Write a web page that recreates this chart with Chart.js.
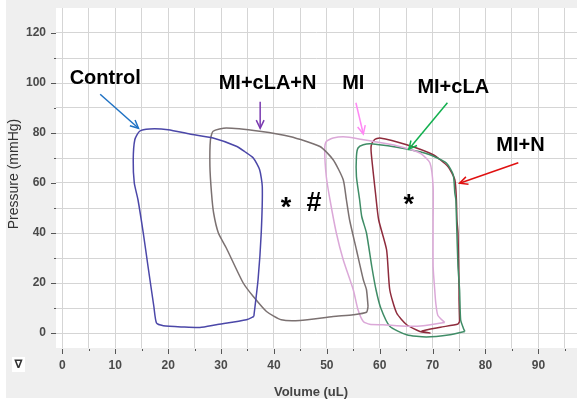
<!DOCTYPE html>
<html>
<head>
<meta charset="utf-8">
<script src="https://cdn.jsdelivr.net/npm/chart.js@4"></script>
<style>
html,body{margin:0;padding:0;background:#fff;}
#wrap{width:577px;height:399px;position:relative;}
</style>
</head>
<body>
<div id="wrap"><canvas id="c" width="577" height="399"></canvas></div>
<script>
// ---- data (Volume uL, Pressure mmHg) ----
const xTicks = [0,5,10,15,20,25,30,35,40,45,50,55,60,65,70,75,80,85,90,95];
const yTicks = [0,10,20,30,40,50,60,70,80,90,100,110,120];

const controlX = [36.2,37.0,37.6,37.8,37.3,36.1,34.5,32.9,28.5,24.1,20.0,16.5,14.6,13.7,13.4,13.6,14.3,15.3,16.2,17.3,17.8,19.1,22.8,26.0,29.1,34.8,36.2];
const controlY = [6.6,21.3,40,58.6,65.3,70,72.5,74.7,78,79.6,81.3,81.6,80.7,77.3,69.3,60,53.3,40,26.6,10.6,4,2.9,2.4,2.2,3.3,5.3,6.6];

const cLANX = [57.8,57.5,56.9,55.6,54.3,53.7,53.1,51.2,48.7,43.0,37.3,31.0,28.5,28.0,27.9,28.2,28.6,29.5,31.0,34.2,36.1,38.6,41.4,44.9,51.2,55.0,57.5,57.8];
const cLANY = [10.6,17.3,21.3,33.3,45.3,53.3,61.3,69.3,74.6,78.6,80.7,82,80.7,77.3,66.6,56,48,40,34,20,14.6,8.6,5.3,5,6.6,7.3,8.3,10.6];

const miX = [72.3,71.0,70.6,70.4,70.1,70.1,70.1,69.5,67.6,63.2,58.8,53.7,51.2,49.9,49.6,49.9,50.6,51.8,53.1,55.0,55.9,56.9,58.1,60.6,65.1,68.2,72.3];
const miY = [4.2,7,12,17.3,26.6,45.3,58.6,68,72,74.9,76.6,78.4,78,76.6,73.3,62.6,53.3,40,29.3,17.3,9.3,4.6,3.5,3.3,2.7,2.9,4.2];

const miCLAX = [76.1,75.8,75.3,75.1,74.8,74.5,74.4,74.2,73.9,72.6,69.5,65.1,58.4,56.9,55.9,55.6,55.6,56.2,56.6,57.5,58.5,59.3,60.2,61.9,65.1,68.8,73.3,76.1];
const miCLAY = [0.6,2,5.3,17.3,26.6,46.6,53.3,56,63.3,68,71.3,73.6,75.7,75.3,74,70.6,62.6,53.3,46.6,40,26.6,17.3,10,2.7,-0.7,-1.6,-0.7,0.6];

const miNX = [75.1,75.0,75.0,74.8,74.6,74.5,74.2,72.9,70.1,65.1,60.0,59.0,58.4,58.4,59.2,59.8,61.3,61.9,63.2,65.1,67.6,69.5,68.0,71.5,74.8,75.1];
const miNY = [4.6,13.3,17.3,40,45.3,53.3,61.3,66.6,71.3,75.3,78,77.3,75,72,56,45.3,33.3,17.3,8,3.3,0.6,0,0.8,2.3,3.6,4.6];

const seriesNames = ['Control','MI+cLA+N','MI','MI+cLA','MI+N'];
const seriesColors = ['#4b47a8','#7b7171','#dba8d8','#3f8c66','#8e2b3c'];
const seriesX = [controlX,cLANX,miX,miCLAX,miNX];
const seriesY = [controlY,cLANY,miY,miCLAY,miNY];

// annotations (data coords)
const labelTexts = ['Control','MI+cLA+N','MI','MI+cLA','MI+N'];
const labelX = [8.1,38.8,55.0,73.9,86.6];
const labelY = [102,99.7,99.7,98.2,74.9];
const arrowColors = ['#1f72c4','#7a3ab0','#ff88f4','#12b04f','#e01010'];
const arrowFromX = [7.15,37.4,55.5,72.8,86.2];
const arrowFromY = [95.5,92.5,92.1,92.1,68.1];
const arrowToX = [14.4,37.4,56.9,65.5,75.1];
const arrowToY = [81.9,81.9,79.6,73.5,59.9];
const markTexts = ['*','#','*'];
const markX = [42.3,47.6,65.5];
const markY = [46.8,48.8,48.0];

const datasets = seriesNames.map((n,i)=>({
  label:n,
  data: seriesX[i].map((x,j)=>({x:x,y:seriesY[i][j]})),
  borderColor: seriesColors[i],
  borderWidth: 1.5,
  showLine: true,
  pointRadius: 0,
  fill: false,
  tension: 0.2
}));

const bgPlugin = {
  id:'bg',
  beforeDraw(chart){
    const ctx = chart.ctx, a = chart.chartArea;
    ctx.save();
    ctx.fillStyle = '#ffffff';
    ctx.fillRect(0,0,chart.width,chart.height);
    ctx.fillStyle = '#efefef';
    ctx.fillRect(6,0,chart.width-6,chart.height-1);
    ctx.fillStyle = '#ffffff';
    ctx.fillRect(a.left,a.top,a.right-a.left,a.bottom-a.top);
    ctx.restore();
  }
};

const decoPlugin = {
  id:'deco',
  afterDraw(chart){
    const ctx = chart.ctx, a = chart.chartArea;
    const xs = chart.scales.x, ys = chart.scales.y;
    ctx.save();
    // tick marks
    ctx.strokeStyle = '#555';
    ctx.lineWidth = 1;
    yTicks.forEach(v=>{
      const py = Math.round(ys.getPixelForValue(v))+0.5;
      ctx.beginPath();
      const len = (v%20===0)?5:2;
      ctx.moveTo(a.left-len,py); ctx.lineTo(a.left,py); ctx.stroke();
    });
    xTicks.forEach(v=>{
      const px = Math.round(xs.getPixelForValue(v))+0.5;
      ctx.beginPath();
      const len = (v%10===0)?5:2;
      ctx.moveTo(px,a.bottom+1); ctx.lineTo(px,a.bottom+1+len); ctx.stroke();
    });
    // axis titles
    ctx.fillStyle = '#333';
    ctx.font = '14px "Liberation Sans", Arial, sans-serif';
    ctx.textAlign = 'center';
    ctx.textBaseline = 'middle';
    ctx.save();
    ctx.translate(14,(a.top+a.bottom)/2-4);
    ctx.rotate(-Math.PI/2);
    ctx.fillText('Pressure (mmHg)',0,0);
    ctx.restore();
    ctx.fillStyle = '#444';
    ctx.font = 'bold 13px "Liberation Sans", Arial, sans-serif';
    ctx.textBaseline = 'alphabetic';
    ctx.fillText('Volume (uL)',311,396);
    // nabla box
    ctx.fillStyle = '#ffffff';
    ctx.fillRect(12,357,13,15);
    ctx.fillStyle = '#333';
    ctx.font = 'bold 12px "DejaVu Sans", sans-serif';
    ctx.textBaseline = 'middle';
    ctx.fillText('\u2207',18.5,365);
    // labels
    ctx.fillStyle = '#000';
    ctx.font = 'bold 20px "Liberation Sans", Arial, sans-serif';
    ctx.textBaseline = 'middle';
    labelTexts.forEach((t,i)=>{
      ctx.fillText(t, xs.getPixelForValue(labelX[i]), ys.getPixelForValue(labelY[i]));
    });
    ctx.font = 'bold 27px "Liberation Sans", Arial, sans-serif';
    ctx.textBaseline = 'alphabetic';
    markTexts.forEach((t,i)=>{
      ctx.fillText(t, xs.getPixelForValue(markX[i]), ys.getPixelForValue(markY[i]));
    });
    // arrows
    arrowColors.forEach((c,i)=>{
      const x1 = xs.getPixelForValue(arrowFromX[i]), y1 = ys.getPixelForValue(arrowFromY[i]);
      const x2 = xs.getPixelForValue(arrowToX[i]), y2 = ys.getPixelForValue(arrowToY[i]);
      const ang = Math.atan2(y2-y1,x2-x1);
      ctx.strokeStyle = c; ctx.lineWidth = 1.5;
      ctx.beginPath(); ctx.moveTo(x1,y1); ctx.lineTo(x2,y2); ctx.stroke();
      const h = 9, sp = 0.45;
      ctx.beginPath();
      ctx.moveTo(x2 - h*Math.cos(ang-sp), y2 - h*Math.sin(ang-sp));
      ctx.lineTo(x2,y2);
      ctx.lineTo(x2 - h*Math.cos(ang+sp), y2 - h*Math.sin(ang+sp));
      ctx.stroke();
    });
    ctx.restore();
  }
};

const tickFont = {family:'"Liberation Sans", Arial, sans-serif', size:12, weight:'bold'};

new Chart(document.getElementById('c'), {
  type:'scatter',
  data:{datasets:datasets},
  options:{
    responsive:false,
    animation:false,
    devicePixelRatio:1,
    layout:{padding:{top:8,right:0,left:0,bottom:0}},
    plugins:{legend:{display:false},tooltip:{enabled:false}},
    scales:{
      x:{
        type:'linear', min:-1.2, max:97.3,
        afterFit(s){ s.height = 51; s.paddingLeft = 0; s.paddingRight = 0; },
        afterBuildTicks(s){ s.ticks = xTicks.map(v=>({value:v})); },
        ticks:{callback:(v)=> (v%10===0 ? String(v) : ''), font:tickFont, color:'#4a4a4a', padding:10, maxRotation:0, autoSkip:false},
        grid:{color:'#d5d5d5', lineWidth:1, drawTicks:false},
        border:{display:false}
      },
      y:{
        type:'linear', min:-6, max:130,
        afterFit(s){ s.width = 56; s.paddingTop = 0; s.paddingBottom = 0; },
        afterBuildTicks(s){ s.ticks = yTicks.map(v=>({value:v})); },
        ticks:{callback:(v)=> (v%20===0 ? String(v) : ''), font:tickFont, color:'#4a4a4a', padding:10, autoSkip:false},
        grid:{color:'#d5d5d5', lineWidth:1, drawTicks:false},
        border:{display:false}
      }
    }
  },
  plugins:[bgPlugin, decoPlugin]
});
</script>
</body>
</html>
